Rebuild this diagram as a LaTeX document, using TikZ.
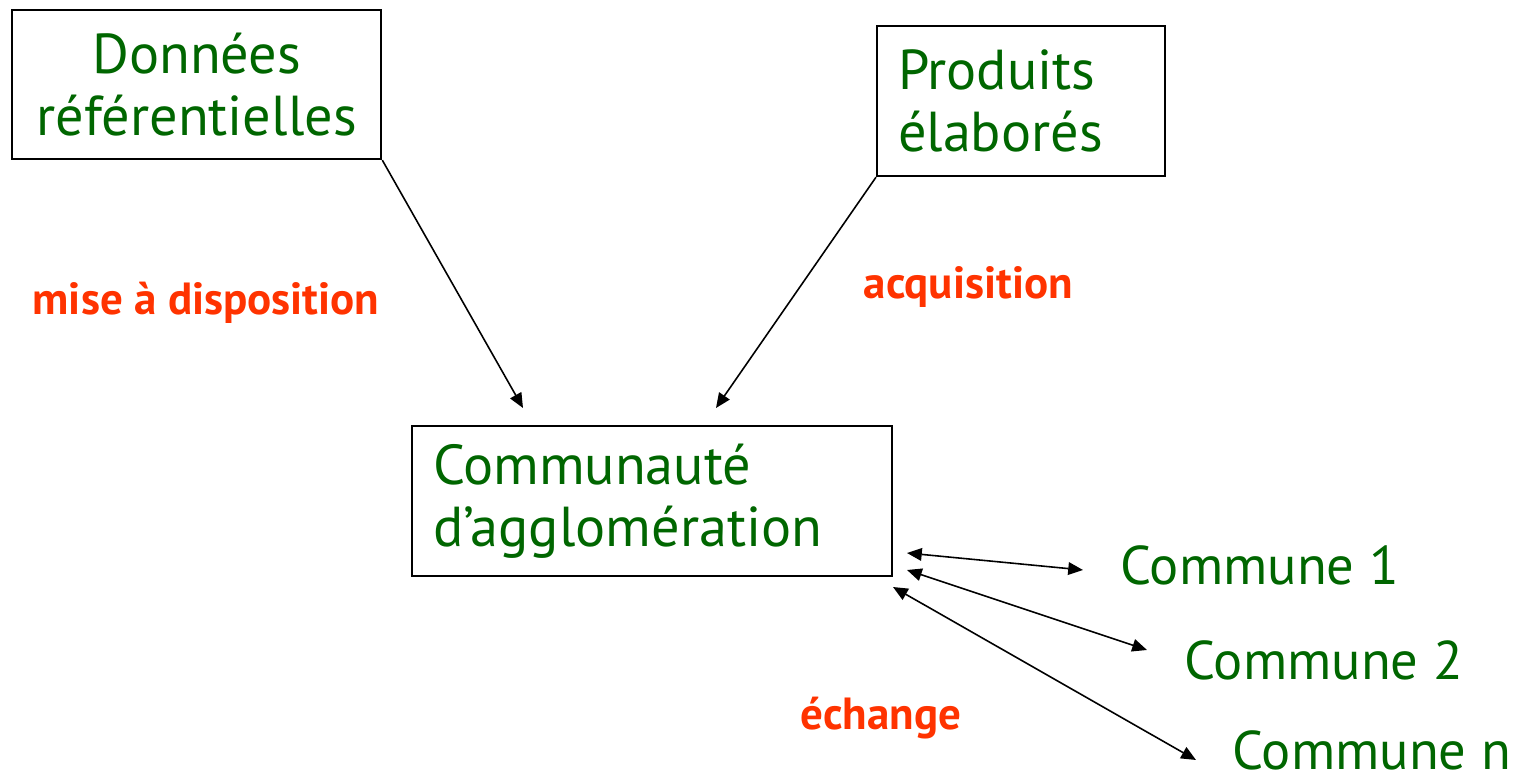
\documentclass[tikz,border=0pt]{standalone}
\definecolor{agglo_green}{RGB}{0, 102, 0}
\definecolor{agglo_orange}{RGB}{255, 51, 0}
\usepackage{fontspec}
\setmainfont{PT Sans}
\usepackage{tikz}
\usetikzlibrary{arrows.meta, positioning}

\tikzset{
  box/.style={draw, line width=0.6pt, rectangle, text=agglo_green,
    font=\fontsize{16}{17.5}\selectfont, inner xsep=0.21cm},
  commune/.style={text=agglo_green, font=\fontsize{15.5}{17.5}\selectfont,
    anchor=west, inner sep=0pt},
  flux/.style={text=agglo_orange, font=\fontsize{12.8}{14}\bfseries\selectfont,
    anchor=west, inner sep=0pt},
  fleche/.style={line width=0.45pt, -{Triangle[length=4.2pt, width=3.6pt]}},
  dfleche/.style={line width=0.45pt,
    {Triangle[length=4.2pt, width=3.6pt]}-{Triangle[length=4.2pt, width=3.6pt]}},
}

\begin{document}
\begin{tikzpicture}[x=0.01cm, y=-0.01cm]
  \useasboundingbox (0,0) rectangle (1517,779);
  % Boites
  \node[box, anchor=north west, minimum width=3.69cm, minimum height=1.49cm,
        align=center] (donnees) at (11,9) {Données\\référentielles};
  \node[box, anchor=north west, minimum width=2.88cm, minimum height=1.50cm,
        text width=2.46cm, align=left] (produits) at (876,25)
        {Produits\\élaborés};
  \node[box, anchor=north west, minimum width=4.80cm, minimum height=1.50cm,
        text width=4.38cm, align=left] (agglo) at (411,425)
        {Communauté\\d’agglomération};
  % Communes
  \node[commune] (c1) at (1120,565) {Commune 1};
  \node[commune] (c2) at (1184,660) {Commune 2};
  \node[commune] (cn) at (1232,750) {Commune n};
  % Libelles des flux
  \node[flux] (dispo) at (32,303) {mise à disposition};
  \node[flux] (acq) at (863,287) {acquisition};
  \node[flux] (ech) at (800,718) {échange};
  % Extremites des fleches
  \coordinate (fin1) at (523,408);
  \coordinate (fin2) at (716,408);
  \coordinate (a1) at (907,553);
  \coordinate (a2) at (907,570);
  \coordinate (a3) at (893,587);
  \coordinate (b1) at (1083,570);
  \coordinate (b2) at (1147,650);
  \coordinate (b3) at (1196,760);
  % Fleches
  \draw[fleche] (donnees.south east) -- (fin1);
  \draw[fleche] (produits.south west) -- (fin2);
  \draw[dfleche] (a1) -- (b1);
  \draw[dfleche] (a2) -- (b2);
  \draw[dfleche] (a3) -- (b3);
\end{tikzpicture}
\end{document}
